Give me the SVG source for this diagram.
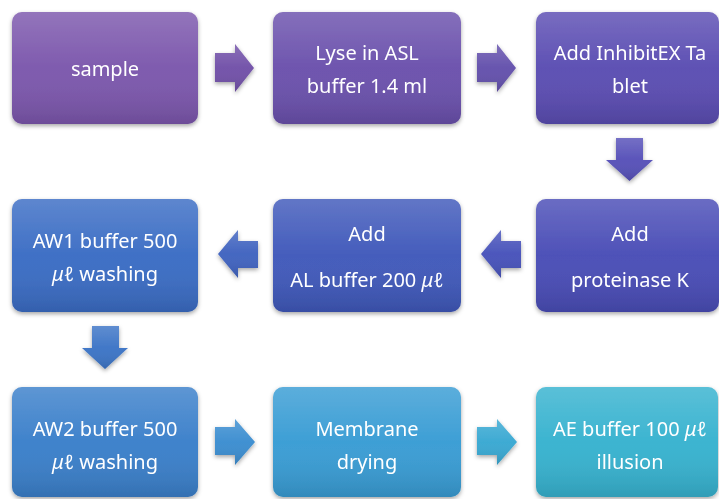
<svg xmlns="http://www.w3.org/2000/svg" width="719" height="499" viewBox="0 0 719 499">
<style>
.lbl{font-family:"Noto Sans","Liberation Sans",sans-serif;font-size:20px;fill:#ffffff;text-anchor:middle}
.u{font-style:italic}
.gloss{fill:url(#gloss)}
</style>
<defs>
<linearGradient id="gloss" x1="0" y1="0" x2="0" y2="1">
<stop offset="0" stop-color="#ffffff" stop-opacity="0.18"/>
<stop offset="0.5" stop-color="#ffffff" stop-opacity="0.03"/>
<stop offset="1" stop-color="#000000" stop-opacity="0.12"/>
</linearGradient>
<filter id="sh" x="-10%" y="-10%" width="120%" height="130%">
<feDropShadow dx="0" dy="2" stdDeviation="2" flood-color="#000" flood-opacity="0.35"/>
</filter>
</defs>
<rect width="719" height="499" fill="#ffffff"/>

<g id="connectors">
<g filter="url(#sh)">
<path d="M215,53 H235 V44 L254,68 L235,92 V82 H215 Z" fill="#7150a8"/>
<path d="M215,53 H235 V44 L254,68 L235,92 V82 H215 Z" class="gloss"/>
<path d="M477,53 H497 V44 L516,68 L497,92 V82 H477 Z" fill="#6350ac"/>
<path d="M477,53 H497 V44 L516,68 L497,92 V82 H477 Z" class="gloss"/>
<path d="M616,138 H643 V160 H653 L629.5,181 L606,160 H616 Z" fill="#5650b8"/>
<path d="M616,138 H643 V160 H653 L629.5,181 L606,160 H616 Z" class="gloss"/>
<path d="M521,241 H501 V230 L481,254 L501,278 V268 H521 Z" fill="#4752ba"/>
<path d="M521,241 H501 V230 L481,254 L501,278 V268 H521 Z" class="gloss"/>
<path d="M258,241 H238 V230 L218,254 L238,278 V268 H258 Z" fill="#3f62bf"/>
<path d="M258,241 H238 V230 L218,254 L238,278 V268 H258 Z" class="gloss"/>
<path d="M92,326 H119 V348 H128 L105,369 L82,348 H92 Z" fill="#3c74c6"/>
<path d="M92,326 H119 V348 H128 L105,369 L82,348 H92 Z" class="gloss"/>
<path d="M215,427 H235 V419 L255,442 L235,465 V455 H215 Z" fill="#3b8dd0"/>
<path d="M215,427 H235 V419 L255,442 L235,465 V455 H215 Z" class="gloss"/>
<path d="M477,427 H497 V419 L517,442 L497,465 V455 H477 Z" fill="#38a8d2"/>
<path d="M477,427 H497 V419 L517,442 L497,465 V455 H477 Z" class="gloss"/>
</g>
</g>

<g id="n1" filter="url(#sh)">
<rect x="12" y="12" width="186" height="112" rx="10" fill="#7b56ac"/>
<rect x="12" y="12" width="186" height="112" rx="10" class="gloss"/>
<text class="lbl" x="105" y="76">sample</text>
</g>
<g id="n2" filter="url(#sh)">
<rect x="273" y="12" width="188" height="112" rx="10" fill="#6a50ac"/>
<rect x="273" y="12" width="188" height="112" rx="10" class="gloss"/>
<text class="lbl" x="367" y="60">Lyse in ASL</text>
<text class="lbl" x="367" y="93">buffer 1.4 ml</text>
</g>
<g id="n3" filter="url(#sh)">
<rect x="536" y="12" width="183" height="112" rx="10" fill="#5a4cb2"/>
<rect x="536" y="12" width="183" height="112" rx="10" class="gloss"/>
<text class="lbl" x="630" y="60">Add InhibitEX Ta</text>
<text class="lbl" x="630" y="93">blet</text>
</g>
<g id="n4" filter="url(#sh)">
<rect x="536" y="199" width="183" height="113" rx="10" fill="#494cb6"/>
<rect x="536" y="199" width="183" height="113" rx="10" class="gloss"/>
<text class="lbl" x="630" y="241">Add</text>
<text class="lbl" x="630" y="287">proteinase K</text>
</g>
<g id="n5" filter="url(#sh)">
<rect x="273" y="199" width="188" height="113" rx="10" fill="#3f58ba"/>
<rect x="273" y="199" width="188" height="113" rx="10" class="gloss"/>
<text class="lbl" x="367" y="241">Add</text>
<text class="lbl" x="367" y="287">AL buffer 200 <tspan class="u">μℓ</tspan></text>
</g>
<g id="n6" filter="url(#sh)">
<rect x="12" y="199" width="186" height="113" rx="10" fill="#3a6cc4"/>
<rect x="12" y="199" width="186" height="113" rx="10" class="gloss"/>
<text class="lbl" x="105" y="248"><tspan>AW1 buffer 500</tspan></text>
<text class="lbl" x="105" y="281"><tspan class="u">μℓ</tspan> washing</text>
</g>
<g id="n7" filter="url(#sh)">
<rect x="12" y="387" width="186" height="110" rx="10" fill="#3a7fca"/>
<rect x="12" y="387" width="186" height="110" rx="10" class="gloss"/>
<text class="lbl" x="105" y="436">AW2 buffer 500</text>
<text class="lbl" x="105" y="469"><tspan class="u">μℓ</tspan> washing</text>
</g>
<g id="n8" filter="url(#sh)">
<rect x="273" y="387" width="188" height="110" rx="10" fill="#389cd4"/>
<rect x="273" y="387" width="188" height="110" rx="10" class="gloss"/>
<text class="lbl" x="367" y="436">Membrane</text>
<text class="lbl" x="367" y="469">drying</text>
</g>
<g id="n9" filter="url(#sh)">
<rect x="536" y="387" width="182" height="110" rx="10" fill="#36b2cf"/>
<rect x="536" y="387" width="182" height="110" rx="10" class="gloss"/>
<text class="lbl" x="630" y="436">AE buffer 100 <tspan class="u">μℓ</tspan></text>
<text class="lbl" x="630" y="469">illusion</text>
</g>
</svg>
